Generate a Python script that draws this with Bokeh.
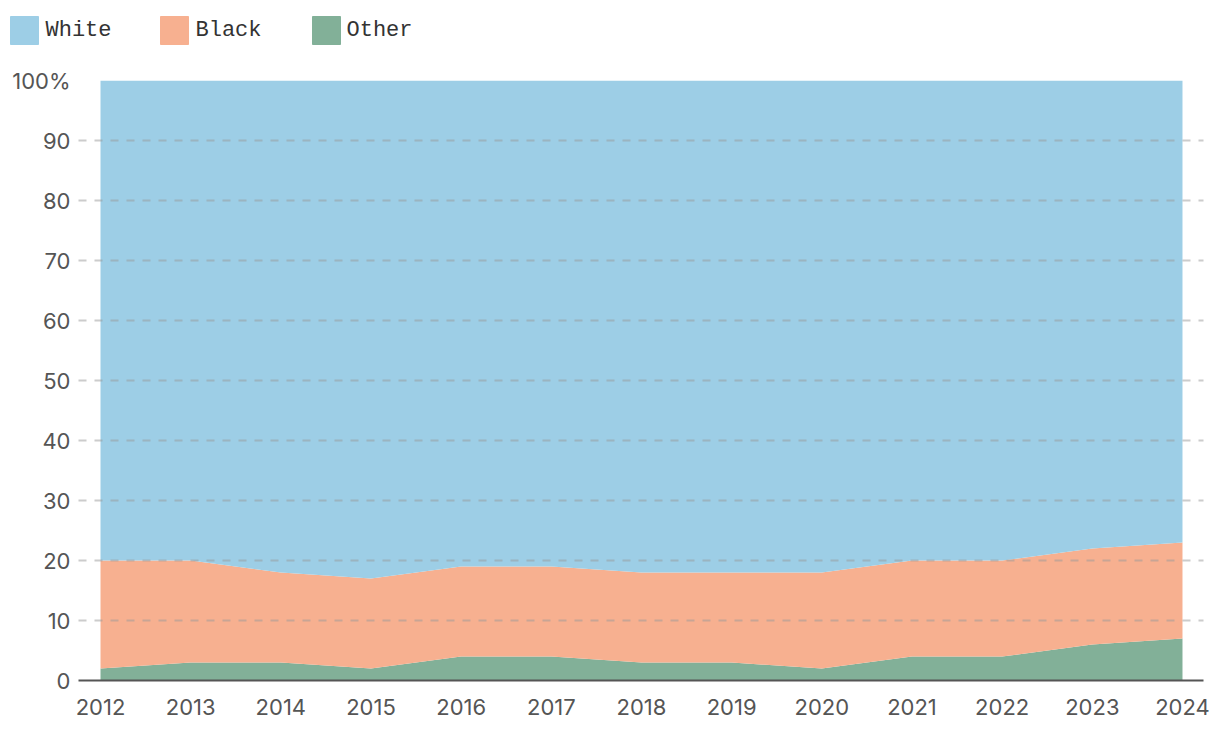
from bokeh.plotting import figure
from bokeh.layouts import column, row
from bokeh.models import ColumnDataSource, FixedTicker, Range1d
from bokeh.core.properties import value
from bokeh.embed import file_html
from bokeh.resources import INLINE

years = [2012, 2013, 2014, 2015, 2016, 2017, 2018, 2019, 2020, 2021, 2022, 2023, 2024]
other = [2, 3, 3, 2, 4, 4, 3, 3, 2, 4, 4, 6, 7]
black = [18, 17, 15, 15, 15, 15, 15, 15, 16, 16, 16, 16, 16]
white = [80, 80, 82, 83, 81, 81, 82, 82, 82, 80, 80, 78, 77]

series_names = ["White", "Black", "Other"]
series_colors = ["#9DCEE6", "#F7B090", "#82B098"]
y_ticks = [0, 10, 20, 30, 40, 50, 60, 70, 80, 90, 100]

W = 1212
tick_font = "Inter"
mono_font = "Liberation Mono"

# ---- legend strip (no axes, frame = whole canvas, units = pixels) ----
LH = 60
leg = figure(width=W, height=LH, x_range=Range1d(0, W), y_range=Range1d(LH, 0),
             x_axis_type=None, y_axis_type=None,
             output_backend="svg", toolbar_location=None,
             min_border=0, min_border_left=0, min_border_right=0,
             min_border_top=0, min_border_bottom=0)
leg.grid.visible = False
leg.outline_line_color = None
leg_src = ColumnDataSource(dict(
    sx=[24, 174, 326],
    tx=[45, 195, 346],
    y=[30, 30, 30],
    name=series_names,
    color=series_colors,
))
leg.rect(x="sx", y="y", width=28, height=28, color="color", source=leg_src)
leg.text(x="tx", y="y", text="name", source=leg_src, text_font=value(mono_font),
         text_font_size="22px", text_color="#333333", text_baseline="middle",
         text_align="left")

# ---- main chart ----
src = ColumnDataSource(dict(year=years, Other=other, Black=black, White=white))
p = figure(width=W, height=664, x_range=Range1d(2011.756, 2024.233), y_range=Range1d(0, 100),
           output_backend="svg", toolbar_location=None,
           min_border_left=78, min_border_right=9, min_border_top=20, min_border_bottom=44)
p.outline_line_color = None
p.varea_stack(stackers=["Other", "Black", "White"], x="year",
              color=[series_colors[2], series_colors[1], series_colors[0]], source=src)

p.xgrid.visible = False
p.ygrid.ticker = FixedTicker(ticks=y_ticks)
p.ygrid.grid_line_color = "#999999"
p.ygrid.grid_line_alpha = 0.5
p.ygrid.grid_line_dash = "8 8"
p.ygrid.grid_line_width = 2
p.ygrid.level = "overlay"

p.xaxis.ticker = FixedTicker(ticks=years)
p.xaxis.axis_line_color = "#555555"
p.xaxis.axis_line_width = 2
p.xaxis.major_tick_line_color = None
p.xaxis.minor_tick_line_color = None
p.xaxis.major_label_standoff = 12
p.xaxis.major_label_text_font = tick_font
p.xaxis.major_label_text_font_size = "22px"
p.xaxis.major_label_text_color = "#555555"

p.yaxis.ticker = FixedTicker(ticks=y_ticks)
p.yaxis.major_label_overrides = {100: "100%"}
p.yaxis.axis_line_color = None
p.yaxis.major_tick_line_color = None
p.yaxis.minor_tick_line_color = None
p.yaxis.major_label_standoff = 2
p.yaxis.major_label_text_font = tick_font
p.yaxis.major_label_text_font_size = "22px"
p.yaxis.major_label_text_color = "#555555"

layout = column(row(leg), p, spacing=0)
open("out.html", "w").write(file_html(layout, INLINE))
